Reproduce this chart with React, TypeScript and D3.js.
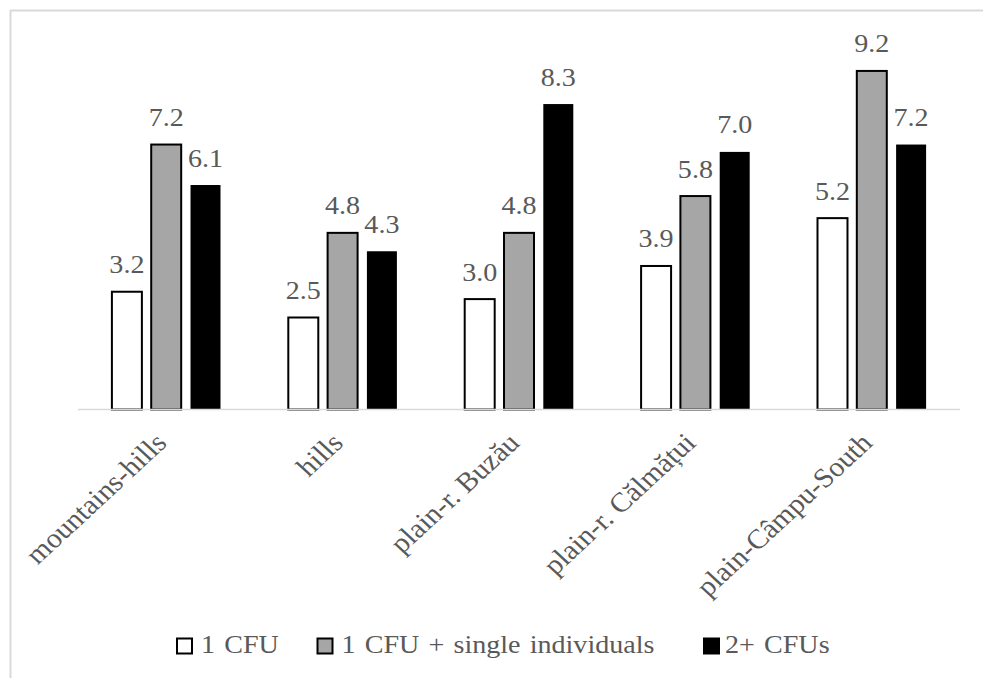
import React from "react";
import * as d3 from "d3";

// Household structure by relief unit (share, %)
const categories = [
  "mountains-hills",
  "hills",
  "plain-r. Buzău",
  "plain-r. Călmățui",
  "plain-Câmpu-South",
];
const seriesNames = ["1 CFU", "1 CFU + single individuals", "2+ CFUs"];
const oneCfu = [3.2, 2.5, 3.0, 3.9, 5.2];
const oneCfuSingles = [7.2, 4.8, 4.8, 5.8, 9.2];
const twoPlusCfus = [6.1, 4.3, 8.3, 7.0, 7.2];
const seriesValues = [oneCfu, oneCfuSingles, twoPlusCfus];
const seriesFills = ["#ffffff", "#a6a6a6", "#000000"];

const W = 983;
const H = 678;
const FONT = '"Liberation Serif", "Times New Roman", serif';
const TEXT = "#595959";
const STRETCH = 1.08;
const labelStyle = { fontFamily: FONT, fontSize: "26px" };
const axisStyle = { fontFamily: FONT, fontSize: "27.5px" };
const legendStyle = { fontFamily: FONT, fontSize: "26px", wordSpacing: "2px" };

export default function App() {
  const x0 = d3.scaleBand<string>().domain(categories).range([78, 960]);
  const x1 = d3
    .scaleBand<string>()
    .domain(seriesNames)
    .range([-54.3, 54.3])
    .paddingInner(0.237)
    .paddingOuter(0);
  const y = d3.scaleLinear().domain([0, 10]).range([409.5, 41.5]);
  const fmt = d3.format(".1f");
  const baseY = y(0);

  const legendX = [176, 316.5, 703];

  return (
    <svg
      width={W}
      height={H}
      style={{ position: "absolute", left: 0, top: 0, background: "#fff" }}
    >
      <rect x={0} y={0} width={W} height={H} fill="#ffffff" />
      {/* chart frame (top and left edges) */}
      <line x1={10} y1={10.5} x2={W} y2={10.5} stroke="#d9d9d9" strokeWidth={2} />
      <line x1={10.5} y1={10} x2={10.5} y2={H} stroke="#d9d9d9" strokeWidth={2} />

      {/* bars */}
      {categories.map((cat, ci) => {
        const cx = (x0(cat) as number) + x0.bandwidth() / 2;
        return (
          <g key={cat}>
            {seriesNames.map((s, si) => {
              const v = seriesValues[si][ci];
              const bx = cx + (x1(s) as number);
              const bw = x1.bandwidth();
              const top = y(v);
              return (
                <g key={s}>
                  <rect
                    x={bx}
                    y={top}
                    width={bw}
                    height={baseY - top}
                    fill={seriesFills[si]}
                    stroke="#000"
                    strokeWidth={si === 2 ? 0 : 2}
                  />
                  <text
                    transform={`translate(${bx + bw / 2},${top - 18.5}) scale(${STRETCH},1)`}
                    textAnchor="middle"
                    style={labelStyle}
                    fill={TEXT}
                  >
                    {fmt(v)}
                  </text>
                </g>
              );
            })}
          </g>
        );
      })}

      {/* category axis */}
      <line x1={78} y1={baseY} x2={960} y2={baseY} stroke="#d9d9d9" strokeWidth={1.5} />
      {categories.map((cat) => {
        const cx = (x0(cat) as number) + x0.bandwidth() / 2;
        return (
          <text
            key={cat}
            transform={`translate(${cx + 2},${baseY + 35}) scale(${STRETCH},1) rotate(-45)`}
            textAnchor="end"
            style={axisStyle}
            fill={TEXT}
          >
            {cat}
          </text>
        );
      })}

      {/* legend */}
      {seriesNames.map((s, si) => (
        <g key={s} transform={`translate(${legendX[si]},0)`}>
          <rect
            x={1}
            y={638.5}
            width={15}
            height={15}
            fill={seriesFills[si]}
            stroke="#000"
            strokeWidth={2}
          />
          <text
            transform={`translate(${si === 2 ? 22 : 25},653) scale(${STRETCH},1)`}
            style={legendStyle}
            fill={TEXT}
          >
            {s}
          </text>
        </g>
      ))}
    </svg>
  );
}
